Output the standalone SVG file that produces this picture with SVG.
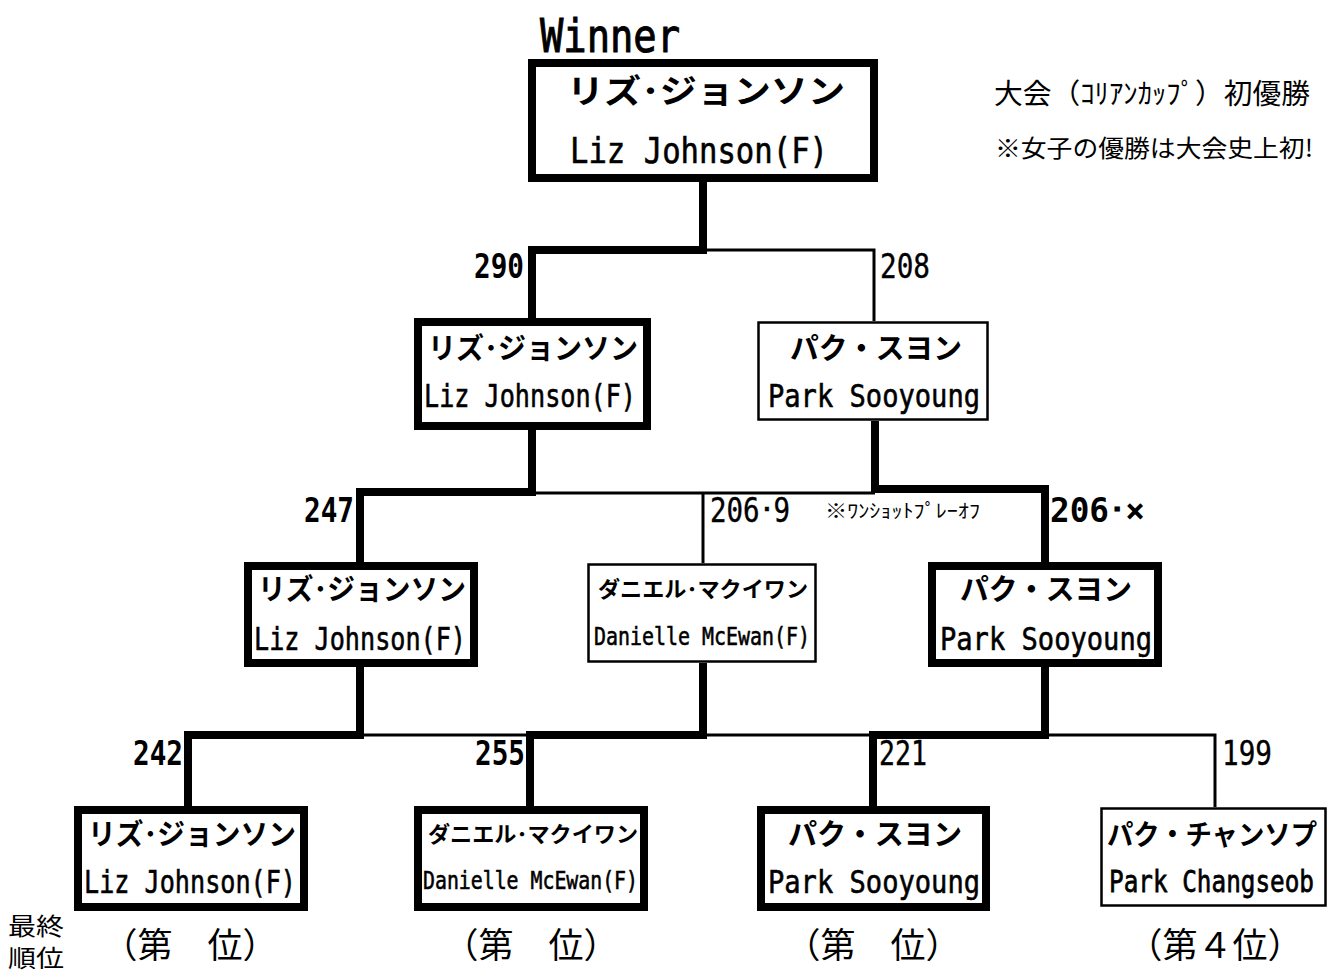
<svg xmlns="http://www.w3.org/2000/svg" width="1328" height="972" viewBox="0 0 1328 972">
<style>
.bg{fill:#fff}
.box{fill:#fff;stroke:#000}
.thick{stroke-width:8}
.thin{stroke-width:2.5}
.lt{fill:none;stroke:#000;stroke-width:8;stroke-linejoin:miter}
.ln{fill:none;stroke:#000;stroke-width:3}
.jp{font-family:"Noto Sans CJK JP","Noto Sans CJK SC",sans-serif;font-weight:bold;fill:#000}
.jpn{font-family:"Noto Sans CJK JP","Noto Sans CJK SC",sans-serif;font-weight:normal;fill:#000}
.en{font-family:"DejaVu Sans Mono",monospace;fill:#000;stroke:#000;stroke-width:0.6}
.nb{font-family:"DejaVu Sans Mono",monospace;font-weight:bold;fill:#000}
.nr{font-family:"DejaVu Sans Mono",monospace;fill:#000;stroke:#000;stroke-width:0.4}
</style>
<rect class="bg" x="0" y="0" width="1328" height="972"/>
<g id="connectors">
<path class="lt" d="M532,318 V250 H703 V182"/>
<path class="ln" d="M703,250 H874 V321"/>
<path class="lt" d="M532,430 V492 H360 V562"/>
<path class="ln" d="M532,493 H875 M703,493 V563"/>
<path class="lt" d="M875,421 V489 H1045 V562"/>
<path class="lt" d="M360,667 V735 H188 V806"/>
<path class="ln" d="M360,735 H530"/>
<path class="lt" d="M703,663 V735 H530 V806"/>
<path class="ln" d="M703,735 H873"/>
<path class="lt" d="M1045,667 V735 H873 V806"/>
<path class="ln" d="M1045,735 H1215 V807"/>
</g>
<g id="title">
<text class="en" x="540" y="52" font-size="46" textLength="140" lengthAdjust="spacingAndGlyphs" style="stroke-width:1">Winner</text>
</g>
<g id="notes">
<text class="jpn" x="994" y="104" font-size="28" textLength="316" lengthAdjust="spacingAndGlyphs">大会（ｺﾘｱﾝｶｯﾌﾟ）初優勝</text>
<text class="jpn" x="995" y="157" font-size="24" textLength="318" lengthAdjust="spacingAndGlyphs">※女子の優勝は大会史上初!</text>
</g>
<g id="node-winner">
<rect class="box thick" x="532" y="63" width="342" height="115"/>
<text class="jp" x="567" y="103" font-size="33" textLength="278" lengthAdjust="spacingAndGlyphs">リズ･ジョンソン</text>
<text class="en" x="570" y="163" font-size="36" textLength="258" lengthAdjust="spacingAndGlyphs">Liz Johnson(F)</text>
</g>
<g id="score-290"><text class="nb" x="474" y="278" font-size="34" textLength="50" lengthAdjust="spacingAndGlyphs">290</text></g>
<g id="score-208"><text class="nr" x="880" y="278" font-size="34" textLength="50" lengthAdjust="spacingAndGlyphs">208</text></g>
<g id="node-l2-liz">
<rect class="box thick" x="418" y="322" width="229" height="104"/>
<text class="jp" x="428" y="359" font-size="29" textLength="210" lengthAdjust="spacingAndGlyphs">リズ･ジョンソン</text>
<text class="en" x="424" y="407" font-size="32" textLength="212" lengthAdjust="spacingAndGlyphs">Liz Johnson(F)</text>
</g>
<g id="node-l2-park">
<rect class="box thin" x="758.5" y="322.5" width="229" height="97"/>
<text class="jp" x="790" y="359" font-size="29" textLength="172" lengthAdjust="spacingAndGlyphs">パク・スヨン</text>
<text class="en" x="768" y="407" font-size="32" textLength="212" lengthAdjust="spacingAndGlyphs">Park Sooyoung</text>
</g>
<g id="score-247"><text class="nb" x="304" y="522" font-size="34" textLength="50" lengthAdjust="spacingAndGlyphs">247</text></g>
<g id="score-2069"><text class="nr" x="710" y="522" font-size="34" textLength="80" lengthAdjust="spacingAndGlyphs">206･9</text></g>
<g id="playoff-note"><text class="jpn" x="825" y="518" font-size="19" textLength="155" lengthAdjust="spacingAndGlyphs">※ﾜﾝｼｮｯﾄﾌﾟﾚｰｵﾌ</text></g>
<g id="score-206x"><text class="nb" x="1050" y="522" font-size="34" textLength="95" lengthAdjust="spacingAndGlyphs">206･×</text></g>
<g id="node-l3-liz">
<rect class="box thick" x="248" y="566" width="226" height="97"/>
<text class="jp" x="258" y="600" font-size="29" textLength="208" lengthAdjust="spacingAndGlyphs">リズ･ジョンソン</text>
<text class="en" x="254" y="650" font-size="32" textLength="212" lengthAdjust="spacingAndGlyphs">Liz Johnson(F)</text>
</g>
<g id="node-l3-danielle">
<rect class="box thin" x="588.5" y="564.5" width="227" height="97"/>
<text class="jp" x="598" y="597" font-size="22" textLength="210" lengthAdjust="spacingAndGlyphs">ダニエル･マクイワン</text>
<text class="en" x="594" y="645" font-size="25" textLength="216" lengthAdjust="spacingAndGlyphs">Danielle McEwan(F)</text>
</g>
<g id="node-l3-park">
<rect class="box thick" x="932" y="566" width="226" height="97"/>
<text class="jp" x="960" y="600" font-size="29" textLength="172" lengthAdjust="spacingAndGlyphs">パク・スヨン</text>
<text class="en" x="940" y="650" font-size="32" textLength="212" lengthAdjust="spacingAndGlyphs">Park Sooyoung</text>
</g>
<g id="score-242"><text class="nb" x="133" y="765" font-size="34" textLength="50" lengthAdjust="spacingAndGlyphs">242</text></g>
<g id="score-255"><text class="nb" x="475" y="765" font-size="34" textLength="50" lengthAdjust="spacingAndGlyphs">255</text></g>
<g id="score-221"><text class="nr" x="879" y="765" font-size="34" textLength="48" lengthAdjust="spacingAndGlyphs">221</text></g>
<g id="score-199"><text class="nr" x="1222" y="765" font-size="34" textLength="50" lengthAdjust="spacingAndGlyphs">199</text></g>
<g id="node-l4-liz">
<rect class="box thick" x="78" y="810" width="226" height="97"/>
<text class="jp" x="88" y="845" font-size="29" textLength="208" lengthAdjust="spacingAndGlyphs">リズ･ジョンソン</text>
<text class="en" x="84" y="893" font-size="32" textLength="212" lengthAdjust="spacingAndGlyphs">Liz Johnson(F)</text>
</g>
<g id="node-l4-danielle">
<rect class="box thick" x="418" y="810" width="226" height="97"/>
<text class="jp" x="428" y="842" font-size="22" textLength="210" lengthAdjust="spacingAndGlyphs">ダニエル･マクイワン</text>
<text class="en" x="423" y="889" font-size="25" textLength="215" lengthAdjust="spacingAndGlyphs">Danielle McEwan(F)</text>
</g>
<g id="node-l4-park-s">
<rect class="box thick" x="761" y="810" width="225" height="97"/>
<text class="jp" x="788" y="845" font-size="29" textLength="174" lengthAdjust="spacingAndGlyphs">パク・スヨン</text>
<text class="en" x="768" y="893" font-size="32" textLength="212" lengthAdjust="spacingAndGlyphs">Park Sooyoung</text>
</g>
<g id="node-l4-park-c">
<rect class="box thin" x="1101.5" y="808.5" width="224" height="97"/>
<text class="jp" x="1107" y="845" font-size="28" textLength="210" lengthAdjust="spacingAndGlyphs">パク・チャンソプ</text>
<text class="en" transform="translate(1109,892) scale(1,1.25)" x="0" y="0" font-size="24.5" textLength="205" lengthAdjust="spacingAndGlyphs">Park Changseob</text>
</g>
<g id="ranks">
<text class="jpn" x="8" y="935" font-size="24" textLength="56" lengthAdjust="spacingAndGlyphs">最終</text>
<text class="jpn" x="8" y="967" font-size="24" textLength="56" lengthAdjust="spacingAndGlyphs">順位</text>
<text class="jpn" x="190" y="958" font-size="35" text-anchor="middle">（第　位）</text>
<text class="jpn" x="531" y="958" font-size="35" text-anchor="middle">（第　位）</text>
<text class="jpn" x="873" y="958" font-size="35" text-anchor="middle">（第　位）</text>
<text class="jpn" x="1215" y="958" font-size="35" text-anchor="middle">（第４位）</text>
</g>
</svg>
